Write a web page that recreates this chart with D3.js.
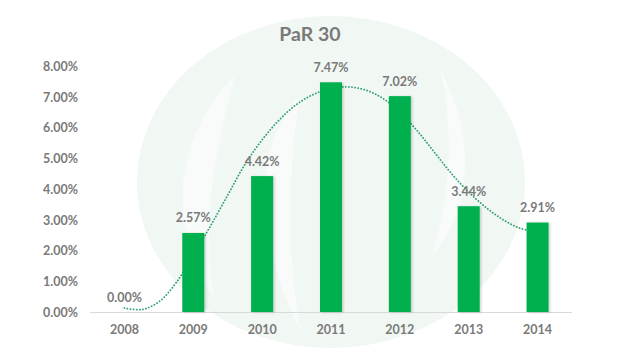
<!DOCTYPE html>
<html>
<head>
<meta charset="utf-8">
<script src="https://cdn.jsdelivr.net/npm/d3@7"></script>
<style>
  html, body { margin: 0; padding: 0; background: #ffffff; }
  svg { display: block; }
</style>
</head>
<body>
<svg id="chart" width="619" height="351"></svg>
<script>
const title = "PaR 30";
const categories = ["2008", "2009", "2010", "2011", "2012", "2013", "2014"];
const values = [0.0000, 0.0257, 0.0442, 0.0747, 0.0702, 0.0344, 0.0291];
const yTicks = [0, 0.01, 0.02, 0.03, 0.04, 0.05, 0.06, 0.07, 0.08];
// trendline: [category position, value]
const trendPos = [0, 0.25, 0.5, 0.75, 1, 1.25, 1.5, 1.75, 2, 2.25, 2.5, 2.75, 3, 3.25, 3.5, 3.75, 4, 4.25, 4.5, 4.75, 5, 5.25, 5.5, 5.75, 6];
const trendVal = [0.0013, 0.0008, 0.0033, 0.0095, 0.0185, 0.028, 0.038, 0.048, 0.056, 0.0625, 0.0675, 0.0708, 0.0727, 0.0732, 0.0722, 0.0695, 0.065, 0.059, 0.052, 0.045, 0.039, 0.034, 0.030, 0.0272, 0.026];

const svg = d3.select("#chart");
const font = "Lato, 'Liberation Sans', sans-serif";
const textColor = "#7a7a7a";

const defs = svg.append("defs");
const sh = defs.append("filter").attr("id", "shadow").attr("x", "-30%").attr("y", "-10%").attr("width", "160%").attr("height", "120%");
sh.append("feDropShadow").attr("dx", 1.5).attr("dy", 0.5).attr("stdDeviation", 1.2).attr("flood-color", "#000").attr("flood-opacity", 0.18);

// watermark background
const wm = svg.append("g");
wm.append("ellipse").attr("cx", 331).attr("cy", 182).attr("rx", 194).attr("ry", 166).attr("fill", "#f1f7f3");
wm.append("path").attr("d", "M235,75 C180,130 160,220 215,300 C200,230 215,150 235,75 Z").attr("fill", "#f9fbfa");
wm.append("path").attr("d", "M300,95 C250,150 255,240 300,330 C285,240 290,160 300,95 Z").attr("fill", "#f9fbfa");
wm.append("path").attr("d", "M440,70 C470,120 480,200 430,260 C450,200 455,130 440,70 Z").attr("fill", "#f9fbfa");

const x = d3.scaleBand().domain(categories).range([90, 572]).paddingInner(0.68).paddingOuter(0.34);
const y = d3.scaleLinear().domain([0, 0.08]).range([312, 66]);

// y axis labels
const yAxis = d3.axisLeft(y).tickValues(yTicks).tickFormat(d3.format(".2%")).tickSize(0).tickPadding(0);
const yg = svg.append("g").attr("transform", "translate(78,0)").call(yAxis);
yg.select(".domain").remove();
yg.selectAll("text").attr("font-family", font).attr("font-weight", "bold").attr("font-size", 12.5).attr("fill", textColor).attr("dy", "0.35em");

// x axis
const xAxis = d3.axisBottom(x).tickSize(0).tickPadding(0);
const xg = svg.append("g").attr("transform", "translate(0,312)").call(xAxis);
xg.select(".domain").attr("stroke", "#d9d9d9").attr("stroke-width", 1).attr("d", "M90,0.5H572");
xg.selectAll("text").attr("font-family", font).attr("font-weight", "bold").attr("font-size", 12.5).attr("fill", textColor).attr("dy", "0").attr("y", 21.5);

// trendline (behind bars)
const centerOf = p => x(categories[0]) + x.bandwidth() / 2 + p * x.step();
const line = d3.line().x((d, i) => centerOf(trendPos[i])).y(d => y(d)).curve(d3.curveCatmullRom);
svg.append("path").attr("d", line(trendVal)).attr("fill", "none")
  .attr("stroke", "#2f9e72").attr("stroke-width", 1.8).attr("stroke-dasharray", "0.1,3").attr("stroke-linecap", "round");

// bars
svg.append("g").selectAll("rect").data(values).join("rect")
  .attr("x", (d, i) => x(categories[i]))
  .attr("y", d => y(d))
  .attr("width", x.bandwidth())
  .attr("height", d => y(0) - y(d))
  .attr("fill", "#00b050")
  .attr("filter", d => d > 0 ? "url(#shadow)" : null);

// data labels
svg.append("g").selectAll("text").data(values).join("text")
  .attr("x", (d, i) => x(categories[i]) + x.bandwidth() / 2)
  .attr("y", d => y(d) - 10.5)
  .attr("text-anchor", "middle")
  .attr("font-family", font).attr("font-weight", "bold").attr("font-size", 12.5).attr("fill", textColor)
  .text(d => d3.format(".2%")(d));

// title
svg.append("text").attr("x", 310).attr("y", 41).attr("text-anchor", "middle")
  .attr("font-family", font).attr("font-weight", "bold").attr("font-size", 19.5).attr("fill", textColor)
  .text(title);
</script>
</body>
</html>
